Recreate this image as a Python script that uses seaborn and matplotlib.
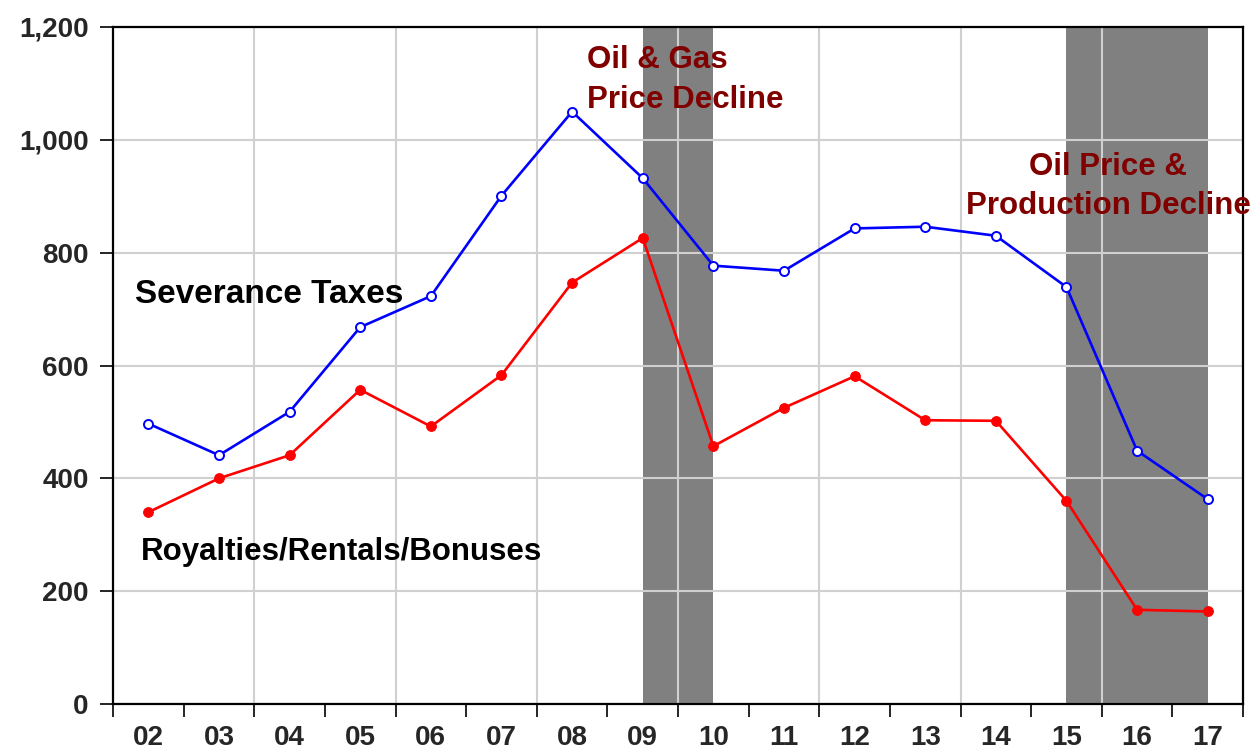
import matplotlib.pyplot as plt
import matplotlib.ticker as mticker
import numpy as np
import pandas as pd
import seaborn as sns

# annual values
years = list(range(2002, 2018))
severance = [497, 441, 518, 668, 723, 901, 1050, 932, 777, 768, 843, 846, 830, 739, 449, 363]
royalties = [340, 400, 441, 557, 492, 583, 747, 826, 457, 525, 581, 503, 502, 360, 167, 164]

# shaded episodes (start, end)
shades = [(2009, 2010), (2015, 2017)]

df = pd.DataFrame({'year': years, 'Severance': severance, 'Royalties': royalties})

sns.set_style('white')
plt.rcParams['font.family'] = ['Liberation Sans', 'DejaVu Sans']
plt.rcParams['font.weight'] = 'bold'

fig = plt.figure(figsize=(12.56, 7.5), dpi=100)
ax = fig.add_axes([0.09, 0.0613, 0.8997, 0.9027])

for start, end in shades:
    ax.axvspan(start, end, color='#808080', lw=0, zorder=0.3)

# grid: horizontal every 200, vertical every second year boundary
ax.set_axisbelow(True)
ax.grid(axis='y', color='#d0d0d0', lw=1.5)
ax.grid(axis='x', visible=False)
for gx in np.arange(years[0] + 1.5, years[-1], 2):
    ax.axvline(gx, color='#d0d0d0', lw=1.5, zorder=0.5)

sns.lineplot(data=df, x='year', y='Severance', ax=ax, color='blue', lw=1.9,
             marker='o', markersize=6.5, markerfacecolor='white',
             markeredgecolor='blue', markeredgewidth=1.4, zorder=3)
sns.lineplot(data=df, x='year', y='Royalties', ax=ax, color='red', lw=1.9,
             marker='o', markersize=7, markerfacecolor='red',
             markeredgecolor='red', zorder=3)

ax.set_xlim(years[0] - 0.5, years[-1] + 0.5)
ax.set_ylim(0, 1200)
ax.set_xlabel('')
ax.set_ylabel('')

# tick marks on year boundaries, labels at year centres
ax.set_xticks(np.arange(years[0] - 0.5, years[-1] + 1, 1))
ax.set_xticklabels([])
ax.set_xticks(years, minor=True)
ax.set_xticklabels([f'{y % 100:02d}' for y in years], minor=True)
ax.tick_params(axis='x', which='major', direction='out', length=9.5, width=1.2,
               bottom=True, color='black')
ax.tick_params(axis='x', which='minor', length=0, pad=15, labelsize=20)

ax.set_yticks(range(0, 1201, 200))
ax.yaxis.set_major_formatter(mticker.FuncFormatter(lambda v, p: f'{int(v):,}'))
ax.tick_params(axis='y', direction='out', length=9.5, width=1.2, left=True,
               pad=8, labelsize=20, color='black')

for s in ax.spines.values():
    s.set_color('black')
    s.set_linewidth(1.6)
    s.set_visible(True)

ax.text(2001.81, 711, 'Severance Taxes', fontsize=24, fontweight='bold',
        color='black', va='baseline', ha='left')
ax.text(2001.90, 256, 'Royalties/Rentals/Bonuses', fontsize=22.5, fontweight='bold',
        color='black', va='baseline', ha='left')
ax.text(2008.21, 1057, 'Oil & Gas\nPrice Decline', fontsize=22.5, fontweight='bold',
        color='#800000', va='baseline', ha='left', multialignment='left',
        linespacing=1.4)
ax.text(2015.59, 869, 'Oil Price &\nProduction Decline', fontsize=22.5,
        fontweight='bold', color='#800000', va='baseline', ha='center',
        multialignment='center', linespacing=1.4, clip_on=False)

fig.savefig('out.png', dpi=100)
